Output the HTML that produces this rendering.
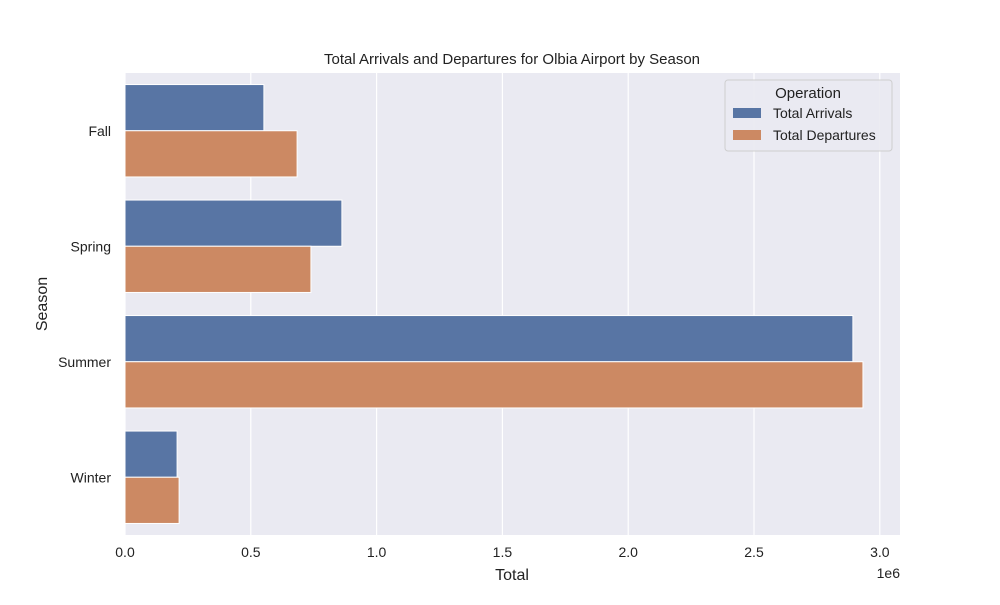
<!DOCTYPE html>
<html><head><meta charset="utf-8"><style>
body{margin:0;background:#fff;font-family:"Liberation Sans","DejaVu Sans",sans-serif;}
</style></head><body>
<svg id="chart" width="1000" height="600" xmlns="http://www.w3.org/2000/svg" font-family="Liberation Sans, DejaVu Sans, sans-serif">
<rect x="125" y="73" width="775" height="462" fill="#eaeaf2"/>
<g id="grid"></g><g id="bars"></g><g id="ticks"></g>
<text x="512" y="64" text-anchor="middle" font-size="15" fill="#222">Total Arrivals and Departures for Olbia Airport by Season</text>
<text x="512" y="580" text-anchor="middle" font-size="16" fill="#222">Total</text>
<text x="47" y="304" text-anchor="middle" font-size="16" fill="#222" transform="rotate(-90 47 304)">Season</text>
<text x="900" y="578" text-anchor="end" font-size="14" fill="#222">1e6</text>
<g>
<rect x="725" y="80" width="167" height="71" rx="3" fill="#eaeaf2" stroke="#ccc" opacity="0.9"/>
<text x="808" y="98" text-anchor="middle" font-size="15" fill="#222">Operation</text>
<rect x="733" y="108" width="28" height="10" fill="#5875a4"/>
<text x="773" y="118" font-size="14" fill="#222">Total Arrivals</text>
<rect x="733" y="130" width="28" height="10" fill="#cc8963"/>
<text x="773" y="140" font-size="14" fill="#222">Total Departures</text>
</g>
</svg>
<script>
const categories=["Fall","Spring","Summer","Winter"];
const arrivals=[0.552e6,0.862e6,2.893e6,0.207e6];
const departures=[0.684e6,0.739e6,2.933e6,0.215e6];
const xTicks=[0,0.5e6,1e6,1.5e6,2e6,2.5e6,3e6];
const xTickLabels=["0.0","0.5","1.0","1.5","2.0","2.5","3.0"];
const NS="http://www.w3.org/2000/svg";
const x0=125,pxPer=251.6/1e6,yTop=73,band=115.5;
const xs=v=>x0+v*pxPer;
const yc=i=>yTop+band*(i+0.5);
function mk(t,a,p){const e=document.createElementNS(NS,t);for(const k in a)e.setAttribute(k,a[k]);p.appendChild(e);return e;}
const grid=document.getElementById('grid'),bars=document.getElementById('bars'),ticks=document.getElementById('ticks');
xTicks.forEach((v,i)=>{
 const l=mk('line',{x1:xs(v),x2:xs(v),y1:yTop,y2:535,stroke:'#fff','stroke-width':1.2},grid);
 
 
 const t=mk('text',{x:xs(v),y:557,'text-anchor':'middle','font-size':14,fill:'#222'},ticks);
 t.textContent=xTickLabels[i];
 
 
});
const bh=band*0.4;
categories.forEach((c,i)=>{
 const a=mk('rect',{x:x0,y:yc(i)-bh,width:xs(arrivals[i])-x0,height:bh,fill:'#5875a4',stroke:'#fff','stroke-width':1},bars);
 
 
 const d=mk('rect',{x:x0,y:yc(i),width:xs(departures[i])-x0,height:bh,fill:'#cc8963',stroke:'#fff','stroke-width':1},bars);
 
 
 const t=mk('text',{x:111,y:yc(i)+5,'text-anchor':'end','font-size':14,fill:'#222'},ticks);
 t.textContent=c;
 
 
});
</script>
</body></html>
